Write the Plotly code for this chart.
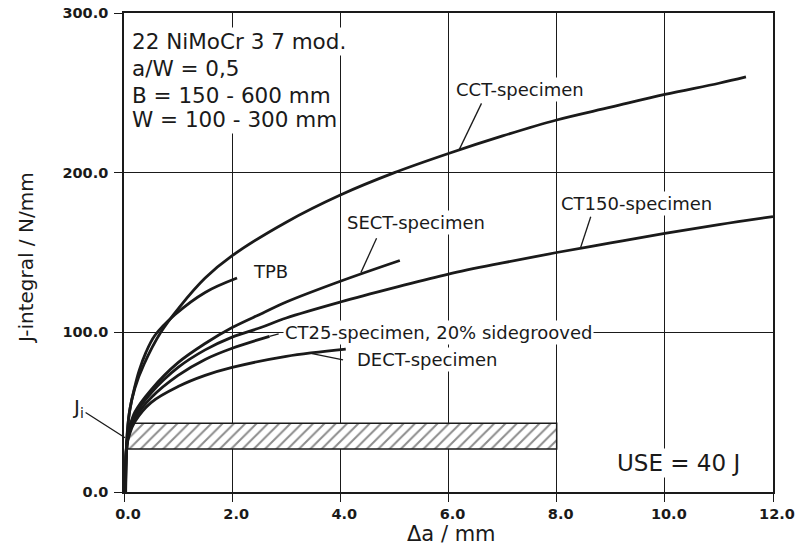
import plotly.graph_objects as go

# ---------------- data ----------------
cct_x = [0.03, 0.05, 0.1, 0.2, 0.37, 0.68, 1.03, 1.5, 2.0, 3.0, 4.0, 5.0, 6.0, 7.0, 8.0, 9.0, 10.0, 11.0, 11.5]
cct_j = [0, 30, 50, 65, 80, 100, 116, 134, 148, 169, 186, 200, 212, 223, 233, 241, 249, 256, 260]

tpb_x = [0.03, 0.05, 0.1, 0.2, 0.28, 0.4, 0.57, 0.94, 1.5, 2.09]
tpb_j = [0, 32, 50, 66, 76, 87, 98, 111, 125, 134]

sect_x = [0.03, 0.05, 0.1, 0.2, 0.5, 1.0, 1.5, 2.0, 2.56, 3.0, 4.0, 5.1]
sect_j = [0, 30, 40, 50, 64, 81, 93, 103, 112, 119, 132, 145]

ct150_x = [0.03, 0.05, 0.1, 0.2, 0.5, 1.0, 1.5, 2.0, 2.53, 3.0, 4.0, 5.0, 6.0, 7.0, 8.0, 9.0, 10.0, 11.0, 12.0]
ct150_j = [0, 30, 39, 48, 62, 78, 89, 97, 103, 109, 119, 128, 136.5, 143.5, 150, 156, 162, 167.5, 172.5]

ct25_x = [0.03, 0.05, 0.1, 0.2, 0.5, 1.0, 1.5, 2.0, 2.69]
ct25_j = [0, 29, 37, 46, 59, 73, 83, 90, 97.5]

dect_x = [0.03, 0.05, 0.1, 0.2, 0.5, 1.0, 1.5, 2.0, 3.0, 4.1]
dect_j = [0, 28, 36, 44, 56, 66, 73, 78, 85, 89.5]

band_x = [0.07, 8.0]
band_j = [27, 43]

x_ticks = [0, 2, 4, 6, 8, 10, 12]
y_ticks = [0, 100, 200, 300]

series = [
    (cct_x, cct_j),
    (tpb_x, tpb_j),
    (sect_x, sect_j),
    (ct150_x, ct150_j),
    (ct25_x, ct25_j),
    (dect_x, dect_j),
]

INK = "#1a1a1a"
FONT = "DejaVu Sans"

fig = go.Figure()

# hatched Ji band
fig.add_trace(go.Scatter(
    x=[band_x[0], band_x[1], band_x[1], band_x[0], band_x[0]],
    y=[band_j[0], band_j[0], band_j[1], band_j[1], band_j[0]],
    mode="lines", fill="toself",
    fillcolor="white",
    fillpattern=dict(shape="/", fgcolor=INK, bgcolor="white", size=8, solidity=0.25),
    line=dict(color=INK, width=1.5),
    hoverinfo="skip", showlegend=False,
))

for xs, js in series:
    fig.add_trace(go.Scatter(
        x=xs, y=js, mode="lines",
        line=dict(color=INK, width=2.8, shape="spline", smoothing=1.0),
        showlegend=False,
    ))

# leader lines (label -> curve)
leaders = [
    (6.2, 214.6, 6.61, 243.4),
    (4.38, 137.4, 4.67, 158.9),
    (8.44, 152.8, 8.63, 172.4),
    (2.69, 97.5, 2.86, 99.0),
    (3.48, 86.7, 4.05, 82.7),
]
for x0, y0, x1, y1 in leaders:
    fig.add_shape(type="line", xref="x", yref="y", x0=x0, y0=y0, x1=x1, y1=y1,
                  line=dict(color=INK, width=1.3))

def label(text, x, y, size=18, xanchor="center"):
    fig.add_annotation(x=x, y=y, xref="x", yref="y", text=text, showarrow=False,
                       xanchor=xanchor, yanchor="middle", bgcolor="white", borderpad=1,
                       font=dict(family=FONT, size=size, color=INK))

# info box
label("22 NiMoCr 3 7 mod.", 0.11, 282.0, size=21.5, xanchor="left")
label("a/W = 0,5", 0.11, 265.4, size=21.5, xanchor="left")
label("B = 150 - 600 mm", 0.11, 248.6, size=21.5, xanchor="left")
label("W = 100 - 300 mm", 0.11, 233.0, size=21.5, xanchor="left")

label("CCT-specimen", 7.32, 252.0)
label("SECT-specimen", 5.40, 168.5)
label("CT150-specimen", 9.47, 181.0)
label("TPB", 2.70, 138.4)
label("CT25-specimen, 20% sidegrooved", 2.94, 99.6, xanchor="left")
label("DECT-specimen", 4.27, 82.7, xanchor="left")
label("USE = 40 J", 9.08, 18.2, size=23, xanchor="left")

fig.add_annotation(x=0.02, y=34, xref="x", yref="y", text="J<sub>i</sub>",
                   showarrow=True, arrowhead=0, arrowwidth=1.3, arrowcolor=INK,
                   ax=-47, ay=-30, standoff=0,
                   font=dict(family=FONT, size=20, color=INK))

# axis titles (pixel positions, converted to paper coordinates below)
L, R, T, B = 124, 23, 13, 58
W, H = 796, 550
pw, ph = W - L - R, H - T - B

def px_annot(text, px, py, size, angle=0):
    fig.add_annotation(x=(px - L) / pw, y=(H - B - py) / ph, xref="paper", yref="paper",
                       text=text, showarrow=False, textangle=angle,
                       xanchor="center", yanchor="middle",
                       font=dict(family=FONT, size=size, color=INK))

px_annot("J-integral / N/mm", 26, 258, 20, angle=-90)
px_annot("Δa / mm", 451, 534, 21)

axis_common = dict(
    showline=True, linecolor=INK, linewidth=1.6, mirror=True,
    showgrid=True, gridcolor=INK, gridwidth=1, zeroline=False,
    ticks="outside", ticklen=8, tickwidth=1.3, tickcolor=INK,
    tickformat=".1f", ticklabeloverflow="allow", automargin=False,
    tickfont=dict(family=FONT, size=14.5, color=INK, weight="bold"),
)

fig.update_xaxes(range=[0, 12], tickvals=x_ticks, ticklabelshift=4, ticklabelstandoff=0, **axis_common)
fig.update_yaxes(range=[0, 300], tickvals=y_ticks, ticklabelstandoff=3, **axis_common)

fig.update_layout(
    width=W, height=H,
    margin=dict(l=L, r=R, t=T, b=B, autoexpand=False),
    paper_bgcolor="white", plot_bgcolor="white",
    showlegend=False,
)

fig.write_html("out.html")
